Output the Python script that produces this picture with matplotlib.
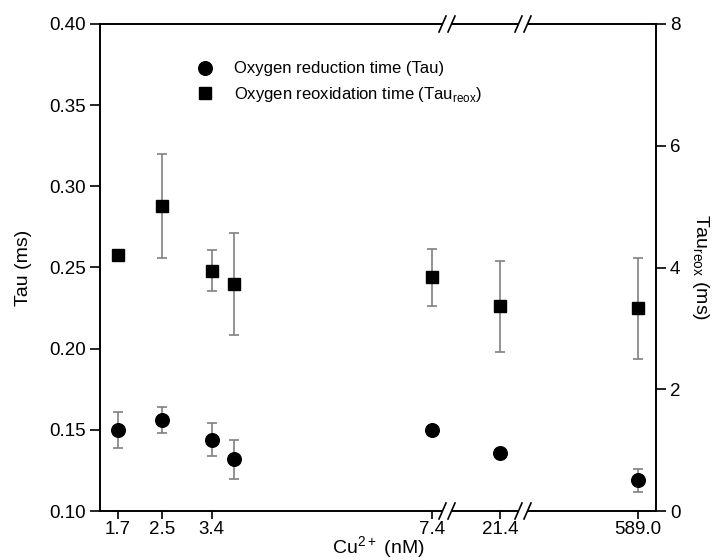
import numpy as np
import matplotlib
matplotlib.use("Agg")
import matplotlib.pyplot as plt
from matplotlib.patches import Rectangle

plt.rcParams['font.family'] = ['Liberation Sans', 'DejaVu Sans']

# ---- data ----
cu = [1.7, 2.5, 3.4, 3.8, 7.4, 21.4, 589.0]
tau = [0.150, 0.156, 0.144, 0.132, 0.150, 0.136, 0.119]
tau_err = [0.011, 0.008, 0.010, 0.012, 0.002, 0.002, 0.007]
tau_reox = [4.21, 5.01, 3.95, 3.73, 3.84, 3.36, 3.33]
tau_reox_err = [0.0, 0.86, 0.34, 0.84, 0.47, 0.74, 0.83]
xticks = [1.7, 2.5, 3.4, 7.4, 21.4, 589.0]
xticklabels = ["1.7", "2.5", "3.4", "7.4", "21.4", "589.0"]

# piecewise-linear broken x scale
kd = np.array([1.373, 7.68, 20.0, 22.0, 560.0, 593.5])
kp = np.array([0.0, 347.0, 347.001, 423.0, 423.001, 556.0])

def fwd(x):
    return np.interp(x, kd, kp)

def inv(p):
    return np.interp(p, kp, kd)

fig = plt.figure(figsize=(7.16, 5.6), dpi=100)
ax = fig.add_axes([100/716, 49/560, 556/716, 487/560])
ax.set_xscale('function', functions=(fwd, inv))
ax.set_xlim(kd[0], kd[-1])
ax.set_ylim(0.10, 0.40)
ax2 = ax.twinx()
ax2.set_ylim(0, 8)

ecol = '#808080'
ax.errorbar(cu, tau, yerr=tau_err, fmt='o', color='black', ms=9.8,
            ecolor=ecol, elinewidth=1.2, capsize=3.8, capthick=1.2, zorder=3)
ax2.errorbar(cu, tau_reox, yerr=tau_reox_err, fmt='s', color='black', ms=9,
             ecolor=ecol, elinewidth=1.2, capsize=3.8, capthick=1.2, zorder=3)

ax.set_xticks(xticks)
ax.set_xticklabels(xticklabels)
ax.xaxis.set_minor_locator(matplotlib.ticker.NullLocator())
ax.set_yticks([0.10, 0.15, 0.20, 0.25, 0.30, 0.35, 0.40])
ax.set_yticklabels(["0.10", "0.15", "0.20", "0.25", "0.30", "0.35", "0.40"])
ax2.set_yticks([0, 2, 4, 6, 8])

for a in (ax, ax2):
    a.tick_params(direction='out', length=7, width=1.2, labelsize=13.5, pad=3)
    for s in a.spines.values():
        s.set_linewidth(1.2)
ax.tick_params(axis='x', length=5.5, pad=1.5)

ax.set_xlabel("Cu$^{\\mathregular{2+}}$ (nM)", fontsize=14, va='center')
ax.xaxis.set_label_coords(0.5, -(548 - 511) / 487)
ax.set_ylabel("Tau (ms)", fontsize=14, va='center')
ax.yaxis.set_label_coords(-(100 - 24) / 556, 0.5)
ax2.set_ylabel("Tau$_{\\mathregular{reox}}$ (ms)", fontsize=14, rotation=270, va='center')
ax2.yaxis.set_label_coords(1 + (700 - 656) / 556, 0.5)

# legend
h1 = ax.plot([], [], 'o', color='black', ms=9.8)[0]
h2 = ax.plot([], [], 's', color='black', ms=9)[0]
ax.legend([h1, h2], ["Oxygen reduction time (Tau)",
                     "Oxygen reoxidation time (Tau$_{\\mathregular{reox}}$)"],
          loc='upper left', bbox_to_anchor=(0.147, 0.937), frameon=False,
          fontsize=12, handletextpad=0.75, labelspacing=0.5, borderaxespad=0)

# break marks on top and bottom spines
W, H = 556.0, 487.0
for bp in (347.0, 423.0):
    xf = bp / W
    for yf in (0.0, 1.0):
        ax2.add_patch(Rectangle((xf - 4.5 / W, yf - 2 / H), 9 / W, 4 / H,
                                transform=ax2.transAxes, facecolor='white',
                                edgecolor='none', clip_on=False, zorder=10))
        for off in (-4.5, 4.5):
            cx = xf + off / W
            ax2.plot([cx - 3.5 / W, cx + 3.5 / W], [yf - 8 / H, yf + 8 / H],
                     transform=ax2.transAxes, color='black', lw=1.2,
                     clip_on=False, zorder=11)

fig.savefig("out.png", dpi=100)
